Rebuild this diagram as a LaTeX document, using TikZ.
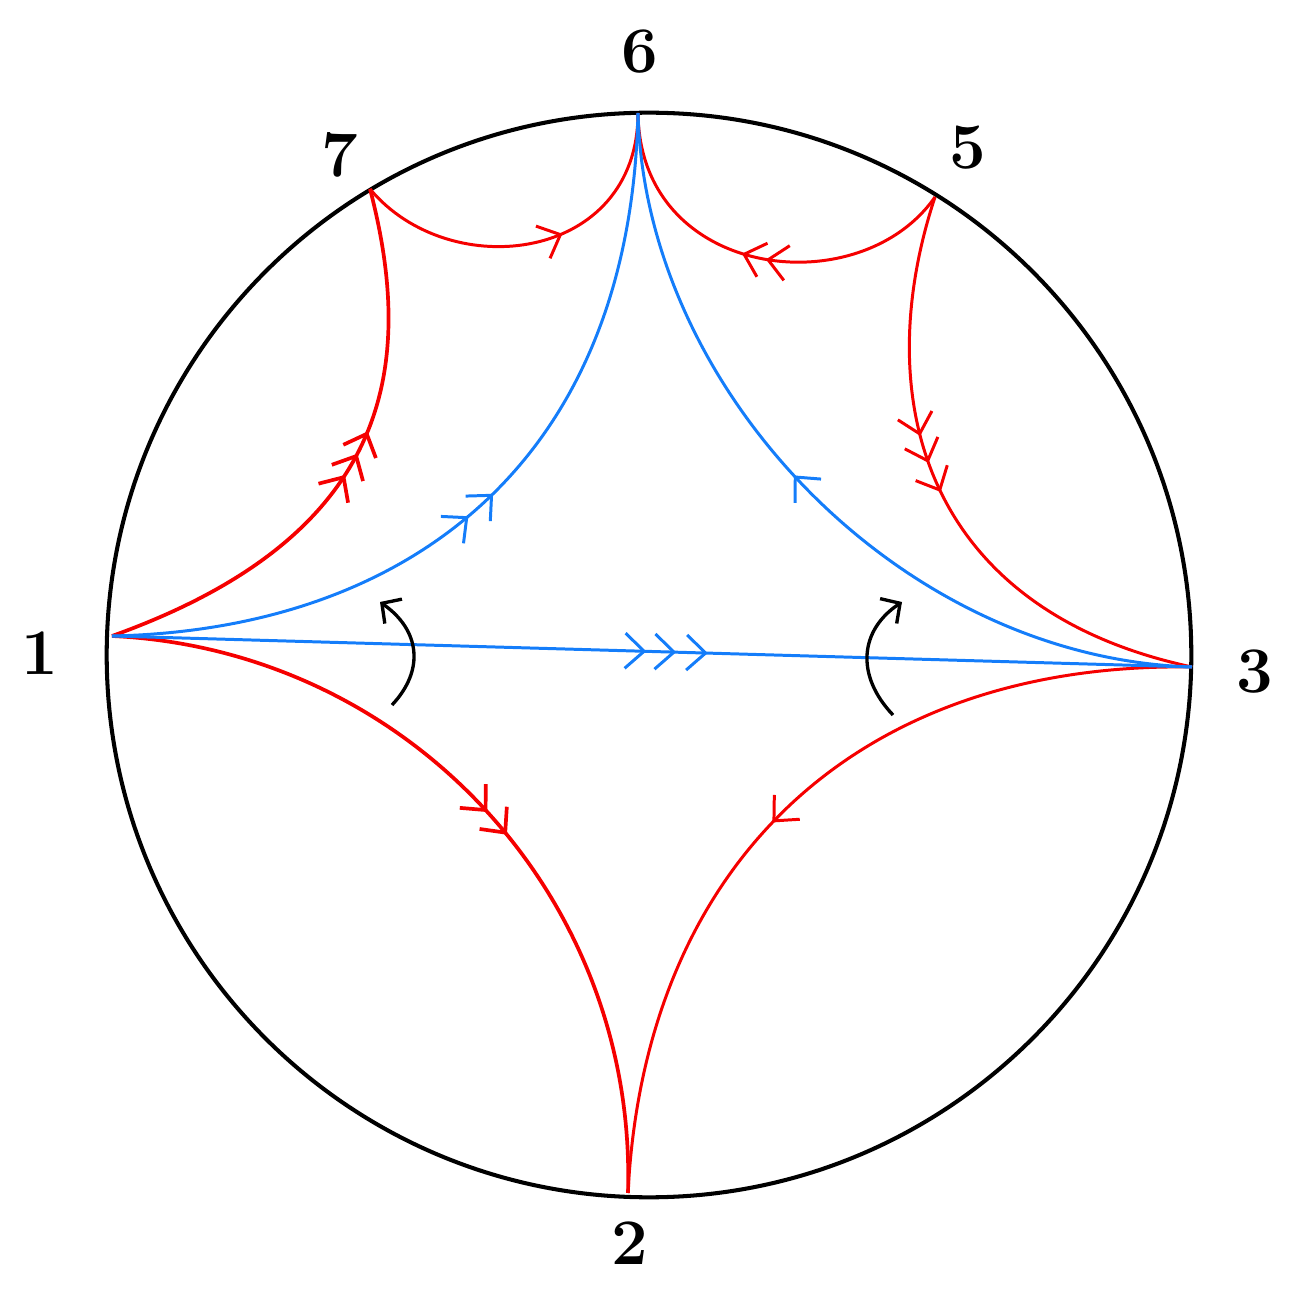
\documentclass[tikz,border=0pt]{standalone}
\usetikzlibrary{arrows.meta,decorations.markings}
\definecolor{geoblue}{RGB}{20,125,250}
\definecolor{geored}{RGB}{245,0,0}
\tikzset{
  chev/.tip={Straight Barb[length=5.4pt,width=10pt]},
  rim/.style={draw=black,line width=1.15pt},
  redthick/.style={color=geored,line width=1.05pt},
  redthin/.style={color=geored,line width=0.85pt},
  blueline/.style={color=geoblue,line width=0.85pt},
  turn/.style={draw=black,line width=0.95pt,-{Straight Barb[length=4pt,width=8.5pt]}},
  arrowsat/.style={postaction={decorate,decoration={markings,mark=at position #1 with {\arrow{chev}}}}},
  lab/.style={font=\fontsize{18.5}{20}\selectfont\bfseries,inner sep=0pt}
}
\begin{document}
\begin{tikzpicture}[x=0.01cm,y=-0.01cm]
\useasboundingbox (0,0) rectangle (1305,1291);
\coordinate (c) at (649,655);
\coordinate (p1) at (112,636);
\coordinate (p2) at (628,1193);
\coordinate (p3) at (1192,667);
\coordinate (p5) at (935,197);
\coordinate (p6) at (638,113);
\coordinate (p7) at (370,189);

\draw[rim] (c) circle[radius=5.42cm];

% red curves
\draw[redthin,arrowsat=60pt] (p7) .. controls (450,285) and (638,262) .. (p6);
\draw[redthin,arrowsat=54pt,arrowsat=61pt] (p5) .. controls (860,305) and (640,280) .. (p6);
\draw[redthick,arrowsat=82pt,arrowsat=89pt,arrowsat=96pt] (p1) .. controls (380,540) and (420,380) .. (p7);
\draw[redthin,arrowsat=69pt,arrowsat=77pt,arrowsat=86pt] (p5) .. controls (868,400) and (925,610) .. (p3);
\draw[redthick,arrowsat=121pt,arrowsat=129.5pt] (p1) .. controls (408,650) and (637,897) .. (p2);
\draw[redthin,arrowsat=131pt] (p3) .. controls (860,662) and (645,860) .. (p2);

% blue curves
\draw[blueline,arrowsat=109pt,arrowsat=118.5pt] (p1) .. controls (400,630) and (630,470) .. (p6);
\draw[blueline,arrowsat=129pt] (p3) .. controls (900,658) and (645,390) .. (p6);
\draw[blueline,arrowsat=152pt,arrowsat=160.5pt,arrowsat=169.5pt] (p1) -- (p3);

% rotation arrows
\coordinate (la) at (392,705);
\coordinate (lb) at (380,602);
\coordinate (ra) at (893,715);
\coordinate (rb) at (902,602);
\draw[turn] (la) .. controls (425,670) and (420,630) .. (lb);
\draw[turn] (ra) .. controls (855,675) and (860,630) .. (rb);

% labels
\node[lab] (l6) at (640,52) {6};
\node[lab] (l7) at (340,155) {7};
\node[lab] (l5) at (968,148) {5};
\node[lab] (l1) at (40,653) {1};
\node[lab] (l3) at (1255,672) {3};
\node[lab] (l2) at (630,1243) {2};
\end{tikzpicture}
\end{document}
